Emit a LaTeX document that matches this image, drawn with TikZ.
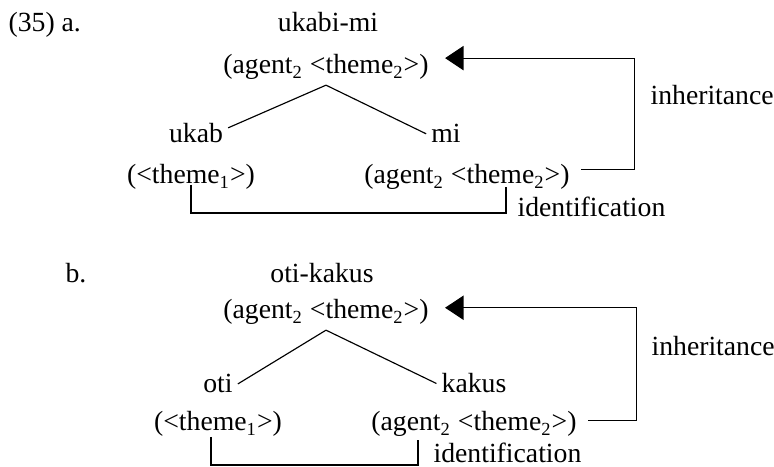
\documentclass[tikz,border=0pt]{standalone}
\usepackage{fontspec}
\setmainfont{Liberation Serif}
\usetikzlibrary{arrows.meta,calc}

\tikzset{
  lex/.style={ anchor=base, inner sep=2pt }
}
\tikzset{
  note/.style={ anchor=base west, inner sep=0pt }
}
\tikzset{
  inh/.style={ -{Triangle[length=8pt, width=10.5pt]}, shorten <=2.8pt, shorten >=4.9pt }
}

\begin{document}
\begin{tikzpicture}[x=0.433pt, y=-0.433pt, line width=0.5pt, font=\fontsize{12}{14}\selectfont]
  \useasboundingbox (0,0) rectangle (774,467);

  % (35a) ukabi-mi
  \node[note] (exA) at (8,32) {(35) a.};
  \node[lex] (wordA) at (328,32) {ukabi-mi};
  \node[lex] (topA) at (326,74) {(agent\textsubscript{2} <theme\textsubscript{2}>)};
  \node[lex] (ukab) at (196,143) {ukab};
  \node[lex] (mi) at (446,143) {mi};
  \node[lex] (themeA) at (191,184) {(<theme\textsubscript{1}>)};
  \node[lex] (agentA) at (467,184) {(agent\textsubscript{2} <theme\textsubscript{2}>)};
  \node[note] (inhA) at (650,105) {inheritance};
  \node[note] (idtA) at (517,217) {identification};
  \coordinate (idA) at (506,187);

  \draw (topA.south) -- (ukab.10);
  \draw (topA.south) -- (mi.west);
  \draw[inh] ([yshift=3.5pt]agentA.east) -- ++(60,0) |- ([yshift=4pt]topA.east);
  \draw (themeA.base) ++(0,1) -- ++(0,28) -| (idA);

  % (35b) oti-kakus
  \node[note] (exB) at (65,283) {b.};
  \node[lex] (wordB) at (322,283) {oti-kakus};
  \node[lex] (topB) at (326,319) {(agent\textsubscript{2} <theme\textsubscript{2}>)};
  \node[lex] (oti) at (218,393) {oti};
  \node[lex] (kakus) at (474,393) {kakus};
  \node[lex] (themeB) at (218,431) {(<theme\textsubscript{1}>)};
  \node[lex] (agentB) at (474,431) {(agent\textsubscript{2} <theme\textsubscript{2}>)};
  \node[note] (inhB) at (651,356) {inheritance};
  \node[note] (idtB) at (433,463) {identification};
  \coordinate (idB) at (418,440);

  \draw (topB.south) -- (oti.east);
  \draw (topB.south) -- (kakus.west);
  \draw[inh] ([yshift=1.5pt]agentB.east) -- ++(55,0) |- ([yshift=2pt]topB.east);
  \draw ($(themeB.base)+(-7,6)$) -- ++(0,28) -| (idB);
\end{tikzpicture}
\end{document}
